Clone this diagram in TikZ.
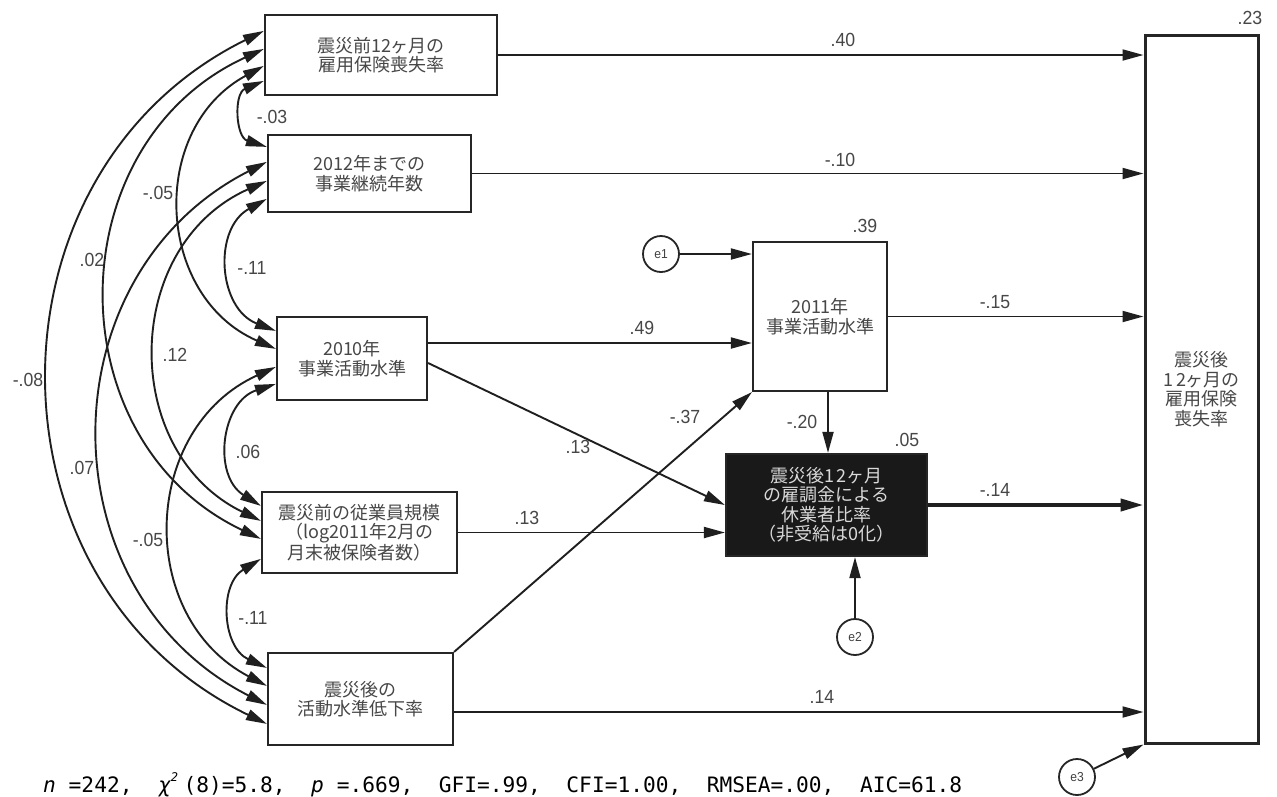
\documentclass[tikz,border=0pt]{standalone}
\usepackage{fontspec}
\newfontfamily\jpfont{Noto Sans CJK JP}
\newfontfamily\numfont[FakeStretch=0.93]{Liberation Sans}
\newfontfamily\monofont{DejaVu Sans Mono}
\usetikzlibrary{arrows.meta}
\newcommand{\supii}{\makebox[0.602em][l]{\raisebox{0.5em}{\fontsize{12}{12}\selectfont\itshape 2}}}
\newcommand{\twelve}{1\kern3pt 2}
\begin{document}
\begin{tikzpicture}[x=1pt,y=-1pt,
  box/.style={draw=black!85, line width=2.2pt, fill=white, font=\jpfont\fontsize{18}{19.5}\selectfont, text=black!72, inner sep=0pt, align=center},
  err/.style={circle, draw=black!85, line width=1.8pt, minimum size=36pt, inner sep=0pt, font=\numfont\fontsize{13}{13}\selectfont, text=black!75},
  pth/.style={-{Triangle[length=21pt,width=11pt]}, line width=1.9pt, draw=black!88},
  cov/.style={{Triangle[length=21pt,width=11pt]}-{Triangle[length=21pt,width=11pt]}, line width=1.9pt, draw=black!88, bend right=#1, looseness=1.19},
  lab/.style={font=\numfont\fontsize{19}{19}\selectfont, text=black!72, inner sep=0pt},
]
\useasboundingbox (0,0) rectangle (1277,796);
\fill[white] (0,0) rectangle (1277,796);

% boxes
\node[box, minimum width=232pt, minimum height=80pt] (A) at (381,55) {震災前12ヶ月の\\雇用保険喪失率};
\node[box, minimum width=203pt, minimum height=77pt] (B) at (369.5,173.5) {2012年までの\\事業継続年数};
\node[box, minimum width=150pt, minimum height=83pt] (C) at (352,358.5) {2010年\\事業活動水準};
\node[box, minimum width=195pt, minimum height=81pt] (D) at (359.5,532.5) {震災前の従業員規模\\（log2011年2月の\\月末被保険者数）};
\node[box, minimum width=185pt, minimum height=92pt] (E) at (360.5,699) {震災後の\\活動水準低下率};
\node[box, minimum width=134pt, minimum height=149pt] (F) at (820,316.5) {2011年\\事業活動水準};
\node[box, fill=black!90, text=white!85!black, minimum width=201pt, minimum height=102pt] (G) at (826.5,505) {震災後\twelve ヶ月\\の雇調金による\\休業者比率\\（非受給は0化）};
\node[box, line width=3pt, minimum width=113pt, minimum height=708pt] (H) at (1201.5,389) {震災後\\\twelve ヶ月の\\雇用保険\\喪失率};

% error terms
\node[err] (e1) at (661,254) {e1};
\node[err] (e2) at (855,637) {e2};
\node[err] (e3) at (1077,777) {e3};

% directed paths
\draw[pth] (A.east) -- (A.east -| H.west);
\draw[pth] (B.east) -- (B.east -| H.west);
\draw[pth] (F.east) -- (F.east -| H.west);
\draw[line width=4pt, draw=black!88, -{Triangle[length=23pt,width=12pt]}] (G.east) -- (G.east -| H.west);
\draw[pth] ([yshift=-13pt]E.east) -- ([yshift=-13pt]E.east -| H.west);
\draw[pth] ([yshift=15.5pt]C.east) -- ([yshift=15.5pt]C.east -| F.west);
\draw[pth] ([yshift=-4.5pt]C.east) -- (G.west);
\draw[pth] (D.east) -- (D.east -| G.west);
\draw[pth] (E.north east) -- (F.south west);
\draw[pth] ([xshift=8pt]F.south) -- ([xshift=8pt]F.south |- G.north);
\draw[pth] (e1) -- (e1 -| F.west);
\draw[pth] (e2) -- (e2 |- G.south);
\draw[pth] (e3) -- (H.south west);

% covariances
\draw[cov=70, looseness=1.27] ([yshift=-67pt]A.north west) to ([yshift=-13pt]B.north west);
\draw[cov=65, looseness=1.2] ([yshift=-65pt]B.north west) to ([yshift=-15pt]C.north west);
\draw[cov=65, looseness=1.2] ([yshift=-68pt]C.north west) to ([yshift=-15pt]D.north west);
\draw[cov=62, looseness=1.16] ([yshift=-68pt]D.north west) to ([yshift=-16pt]E.north west);
\draw[cov=64] ([yshift=-52pt]A.north west) to ([yshift=-33pt]C.north west);
\draw[cov=65] ([yshift=-47pt]B.north west) to ([yshift=-30pt]D.north west);
\draw[cov=64] ([yshift=-51pt]C.north west) to ([yshift=-34pt]E.north west);
\draw[cov=65] ([yshift=-35pt]A.north west) to ([yshift=-48pt]D.north west);
\draw[cov=63, looseness=1.18] ([yshift=-28pt]B.north west) to ([yshift=-53pt]E.north west);
\draw[cov=64, looseness=1.18] ([yshift=-17pt]A.north west) to ([yshift=-72pt]E.north west);

% labels
\node[lab] (l1) at (272,117) {-.03};
\node[lab] (l2) at (252,268) {-.11};
\node[lab] (l3) at (158,193) {-.05};
\node[lab] (l4) at (92,260) {.02};
\node[lab] (l5) at (175,355) {.12};
\node[lab] (l6) at (28,380) {-.08};
\node[lab] (l7) at (248,452) {.06};
\node[lab] (l8) at (82,468) {.07};
\node[lab] (l9) at (148,540) {-.05};
\node[lab] (l10) at (253,618) {-.11};
\node[lab] (l11) at (865,226) {.39};
\node[lab] (l12) at (642,328) {.49};
\node[lab] (l13) at (685,417) {-.37};
\node[lab] (l14) at (802,422) {-.20};
\node[lab] (l15) at (907,440) {.05};
\node[lab] (l16) at (578,447) {.13};
\node[lab] (l17) at (527,518) {.13};
\node[lab] (l18) at (843,40) {.40};
\node[lab] (l19) at (840,160) {-.10};
\node[lab] (l20) at (995,302) {-.15};
\node[lab] (l21) at (995,490) {-.14};
\node[lab] (l22) at (822,697) {.14};
\node[lab] (l23) at (1250,18) {.23};

% fit statistics
\node[anchor=base west, inner sep=0pt, font=\monofont\fontsize{21.2}{22}\selectfont] (stats) at (43,792)
 {{\itshape n}\ =242,\ \ {\itshape χ}\supii(8)=5.8,\ \ {\itshape p}\ =.669,\ \ GFI=.99,\ \ CFI=1.00,\ \ RMSEA=.00,\ \ AIC=61.8};
\end{tikzpicture}
\end{document}
